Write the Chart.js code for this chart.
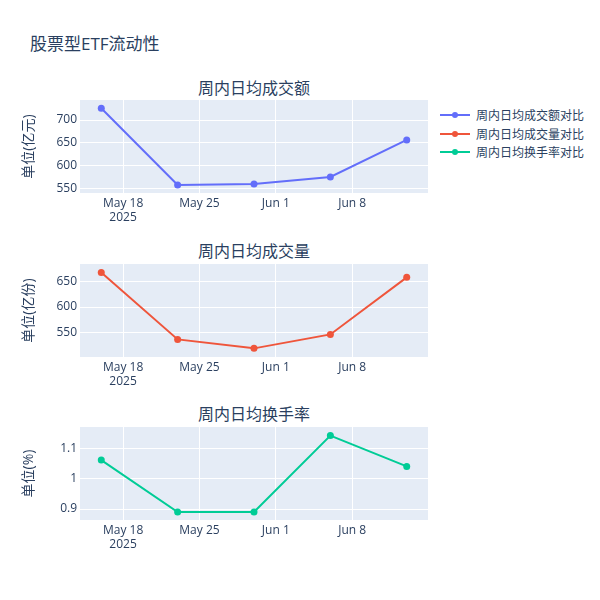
<!DOCTYPE html>
<html><head><meta charset="utf-8">
<script src="https://cdn.jsdelivr.net/npm/chart.js@4.4.1/dist/chart.umd.min.js"></script>
<style>
html,body{margin:0;padding:0;background:#fff;}
#wrap{position:relative;width:600px;height:600px;overflow:hidden;font-family:"Open Sans","Noto Sans CJK SC",sans-serif;color:#2a3f5f;}
.box{position:absolute;left:0;width:432px;}
.sub{position:absolute;left:80px;width:348px;text-align:center;font-size:16px;line-height:20px;}
#title{position:absolute;left:30px;top:33px;font-size:17px;line-height:22px;}
#legend{position:absolute;left:440px;top:106px;font-size:12px;}
.li{height:18.5px;display:flex;align-items:center;}
.sw{position:relative;width:30px;height:18px;margin-right:6px;}
.sw .ln{position:absolute;left:0;top:8px;width:30px;height:2px;}
.sw .dt{position:absolute;left:12px;top:6px;width:6px;height:6px;border-radius:50%;}
</style></head>
<body><div id="wrap">
<div id="title">股票型ETF流动性</div>
<div id="legend"></div>
<div class="sub" style="top:78px">周内日均成交额</div>
<div class="sub" style="top:241px">周内日均成交量</div>
<div class="sub" style="top:404px">周内日均换手率</div>
<div class="box" style="top:100px;height:133px"><canvas id="c1"></canvas></div>
<div class="box" style="top:263.5px;height:133px"><canvas id="c2"></canvas></div>
<div class="box" style="top:426.5px;height:133px"><canvas id="c3"></canvas></div>
</div>
<script>
const dates = ['2025-05-16','2025-05-23','2025-05-30','2025-06-06','2025-06-13'];
const amount = [725.7, 557.9, 560.0, 575.5, 656.6];
const volume = [667.4, 537.0, 519.6, 546.7, 657.7];
const turnover = [1.062, 0.890, 0.890, 1.143, 1.041];
const seriesNames = ['周内日均成交额对比','周内日均成交量对比','周内日均换手率对比'];
const yTitles = ['单位(亿元)','单位(亿份)','单位(%)'];
const xTickDates = ['2025-05-18','2025-05-25','2025-06-01','2025-06-08'];
const xTickLabels = [['May 18','2025'],['May 25'],['Jun 1'],['Jun 8']];
const yTicks1 = [550,600,650,700];
const yTickLabels1 = ['550','600','650','700'];
const yTicks2 = [550,600,650];
const yTickLabels2 = ['550','600','650'];
const yTicks3 = [0.9,1,1.1];
const yTickLabels3 = ['0.9','1','1.1'];

const colors = ['#636efa','#EF553B','#00cc96'];
const FONT = '"Open Sans","Noto Sans CJK SC",sans-serif';
const TXT = '#2a3f5f';
const day = s => Date.UTC(+s.slice(0,4), +s.slice(5,7)-1, +s.slice(8,10)) / 86400000;
const xs = dates.map(day);
const xTicks = xTickDates.map(day);
const xMin = xs[0] - 1.95, xMax = xs[xs.length-1] + 1.95;

const bgPlugin = {
  id:'bg',
  beforeDraw(c){
    const a=c.chartArea, ctx=c.ctx;
    ctx.save(); ctx.fillStyle='#E5ECF6';
    ctx.fillRect(a.left,a.top,a.right-a.left,a.bottom-a.top); ctx.restore();
  }
};

function make(id, vals, color, name, ytitle, yticks, ylabels, ymin, ymax){
  new Chart(document.getElementById(id), {
    type:'line',
    data:{datasets:[{label:name, data: xs.map((x,i)=>({x, y: vals[i]})),
      borderColor:color, backgroundColor:color, borderWidth:2,
      pointRadius:3.5, pointHoverRadius:3.5, pointBorderWidth:0, tension:0}]},
    options:{
      responsive:true, maintainAspectRatio:false, animation:false,
      layout:{autoPadding:false, padding:{left:0,right:4,top:0,bottom:0}},
      plugins:{legend:{display:false}, tooltip:{enabled:false}},
      scales:{
        x:{type:'linear', min:xMin, max:xMax,
          afterBuildTicks:s=>{s.ticks = xTicks.map(v=>({value:v}));},
          afterFit:s=>{s.height=40; s.paddingLeft=0; s.paddingRight=0;},
          ticks:{autoSkip:false, maxRotation:0, padding:3, color:TXT, font:{family:FONT,size:12},
            callback:(v,i)=>xTickLabels[i]},
          grid:{color:'#fff', lineWidth:1, drawTicks:false},
          border:{display:false}},
        y:{type:'linear', min:ymin, max:ymax,
          afterBuildTicks:s=>{s.ticks = yticks.map(v=>({value:v}));},
          afterFit:s=>{s.width=80; s.paddingTop=0; s.paddingBottom=0;},
          ticks:{padding:3, color:TXT, font:{family:FONT,size:12}, callback:(v,i)=>ylabels[i]},
          grid:{color:'#fff', lineWidth:1, drawTicks:false},
          border:{display:false},
          title:{display:true, text:ytitle, color:TXT, font:{family:FONT,size:14}, padding:{top:21,bottom:0}}}
      }
    },
    plugins:[bgPlugin]
  });
}
make('c1', amount, colors[0], seriesNames[0], yTitles[0], yTicks1, yTickLabels1, 540.3, 743.9);
make('c2', volume, colors[1], seriesNames[1], yTitles[1], yTicks2, yTickLabels2, 502.8, 683.7);
make('c3', turnover, colors[2], seriesNames[2], yTitles[2], yTicks3, yTickLabels3, 0.8637, 1.1715);

const lg = document.getElementById('legend');
seriesNames.forEach((n,i)=>{
  const d=document.createElement('div'); d.className='li';
  d.innerHTML='<span class="sw"><span class="ln" style="background:'+colors[i]+'"></span><span class="dt" style="background:'+colors[i]+'"></span></span><span>'+n+'</span>';
  lg.appendChild(d);
});
</script>
</body></html>
